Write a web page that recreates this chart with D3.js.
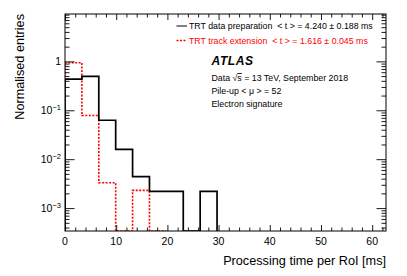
<!DOCTYPE html>
<html>
<head>
<meta charset="utf-8">
<script src="https://cdn.jsdelivr.net/npm/d3@7"></script>
<style>
  body { margin: 0; background: #fff; }
  text { font-family: "Liberation Sans", Arial, sans-serif; }
</style>
</head>
<body>
<div class="chart"></div>
<script>
// bin edges [ms] and normalised contents
var bin_edges = [0, 3.3, 6.6, 9.9, 13.2, 16.5, 19.8, 23.1, 26.4, 29.7];
var data_prep = [0.435, 0.494, 0.0625, 0.0158, 0.0044, 0.0022, 0.0022, 0, 0.0022];
var track_ext = [0.94, 0.078, 0.0033, 0, 0.0023, 0];
var x_ticks = [0, 10, 20, 30, 40, 50, 60];
var y_ticks = [1, 0.1, 0.01, 0.001];
var y_tick_exps = ["", "\u22121", "\u22122", "\u22123"];
var legend_labels = [
	"TRT data preparation  < t > = 4.240 \u00b1 0.188 ms",
	"TRT track extension  < t > = 1.616 \u00b1 0.045 ms"
];

var width = 407;
var height = 276;
var frame = {left: 65, top: 14, right: 386, bottom: 231};
var chart_svg, x, y;

function create_svg_placeholder() {
	chart_svg = d3.select(".chart")
		.append("svg")
		.attr("width", width)
		.attr("height", height);

	x = d3.scaleLinear().domain([0, 62.7]).range([frame.left, frame.right]);
	y = d3.scaleLog().domain([3.4e-4, 9.3]).range([frame.bottom, frame.top]);

	chart_svg.append("clipPath").attr("id", "clip")
		.append("rect")
		.attr("x", frame.left).attr("y", frame.top)
		.attr("width", frame.right - frame.left)
		.attr("height", frame.bottom - frame.top);
}

function hist_path(values) {
	// ROOT style step line, empty bins sit on the bottom of the frame
	let yb = y.range()[0];
	let pts = [[x(bin_edges[0]), yb]];
	values.forEach(function(v, i) {
		let yv = v > 0 ? y(v) : yb;
		pts.push([x(bin_edges[i]), yv]);
		pts.push([x(bin_edges[i + 1]), yv]);
	});
	pts.push([x(bin_edges[values.length]), yb]);
	return d3.line()(pts);
}

function draw_histograms() {
	let g = chart_svg.append("g").attr("clip-path", "url(#clip)");
	g.append("path")
		.attr("d", hist_path(track_ext))
		.attr("fill", "none")
		.attr("stroke", "#ff0000")
		.attr("stroke-width", 1.6)
		.attr("stroke-dasharray", "2,1.5");
	g.append("path")
		.attr("d", hist_path(data_prep))
		.attr("fill", "none")
		.attr("stroke", "#000")
		.attr("stroke-width", 1.7);
}

function draw_axes() {
	let xMinor = d3.range(0, 63, 2).filter(function(d) { return d % 10 !== 0; });

	// bottom (ticks pointing up into the frame)
	chart_svg.append("g").attr("transform", "translate(0," + frame.bottom + ")")
		.call(d3.axisBottom(x).tickValues(x_ticks).tickSizeInner(-6).tickFormat("")).call(clean);
	chart_svg.append("g").attr("transform", "translate(0," + frame.bottom + ")")
		.call(d3.axisBottom(x).tickValues(xMinor).tickSizeInner(-3.5).tickFormat("")).call(clean);
	// top
	chart_svg.append("g").attr("transform", "translate(0," + frame.top + ")")
		.call(d3.axisTop(x).tickValues(x_ticks).tickSizeInner(-6).tickFormat("")).call(clean);
	chart_svg.append("g").attr("transform", "translate(0," + frame.top + ")")
		.call(d3.axisTop(x).tickValues(xMinor).tickSizeInner(-3.5).tickFormat("")).call(clean);

	chart_svg.selectAll(".xlab").data(x_ticks).enter().append("text")
		.attr("x", function(d) { return x(d); })
		.attr("y", 245)
		.attr("text-anchor", "middle")
		.attr("font-size", "10.5px")
		.text(function(d) { return d; });

	// log y minor ticks
	let yMinor = [];
	for (let e = -4; e <= 0; e++) {
		for (let k = 2; k <= 9; k++) {
			let v = k * Math.pow(10, e);
			if (v > y.domain()[0] && v < y.domain()[1]) yMinor.push(v);
		}
	}
	chart_svg.append("g").attr("transform", "translate(" + frame.left + ",0)")
		.call(d3.axisLeft(y).tickValues(y_ticks).tickSizeInner(-9.5).tickFormat("")).call(clean);
	chart_svg.append("g").attr("transform", "translate(" + frame.left + ",0)")
		.call(d3.axisLeft(y).tickValues(yMinor).tickSizeInner(-4.5).tickFormat("")).call(clean);
	chart_svg.append("g").attr("transform", "translate(" + frame.right + ",0)")
		.call(d3.axisRight(y).tickValues(y_ticks).tickSizeInner(-9.5).tickFormat("")).call(clean);
	chart_svg.append("g").attr("transform", "translate(" + frame.right + ",0)")
		.call(d3.axisRight(y).tickValues(yMinor).tickSizeInner(-4.5).tickFormat("")).call(clean);

	let ylab = chart_svg.selectAll(".ylab").data(y_ticks).enter().append("text")
		.attr("x", 61)
		.attr("y", function(d) { return y(d) + 4; })
		.attr("text-anchor", "end")
		.attr("font-size", "10.5px");
	ylab.append("tspan").text(function(d, i) { return i === 0 ? "1" : "10"; });
	ylab.append("tspan")
		.attr("dy", -4.5)
		.attr("font-size", "7.5px")
		.text(function(d, i) { return y_tick_exps[i]; });

	// frame
	chart_svg.append("rect")
		.attr("x", frame.left).attr("y", frame.top)
		.attr("width", frame.right - frame.left)
		.attr("height", frame.bottom - frame.top)
		.attr("fill", "none")
		.attr("stroke", "#000")
		.attr("stroke-width", 1);
}

function clean(g) {
	g.select(".domain").remove();
	g.selectAll(".tick line").attr("stroke", "#000").attr("stroke-width", 0.9);
}

function draw_titles() {
	chart_svg.append("text")
		.attr("x", frame.right)
		.attr("y", 265)
		.attr("text-anchor", "end")
		.attr("font-size", "12.7px")
		.text("Processing time per RoI [ms]");

	chart_svg.append("text")
		.attr("transform", "translate(24," + frame.top + ") rotate(-90)")
		.attr("text-anchor", "end")
		.attr("font-size", "12.7px")
		.text("Normalised entries");
}

function draw_legend() {
	let colors = ["#000", "#ff0000"];
	let ys = [26, 40.5];
	legend_labels.forEach(function(s, i) {
		chart_svg.append("line")
			.attr("x1", 176.5).attr("x2", 187)
			.attr("y1", ys[i]).attr("y2", ys[i])
			.attr("stroke", colors[i])
			.attr("stroke-width", i === 0 ? 1 : 1.6)
			.attr("stroke-dasharray", i === 0 ? null : "2,1.5");
		chart_svg.append("text")
			.attr("x", 189)
			.attr("y", ys[i] + 3.2)
			.attr("font-size", "8.8px")
			.attr("fill", colors[i])
			.style("white-space", "pre")
			.text(s);
	});
}

function draw_atlas_label() {
	chart_svg.append("text")
		.attr("x", 211.5)
		.attr("y", 65)
		.attr("font-size", "12px")
		.attr("font-weight", "bold")
		.attr("font-style", "italic")
		.attr("letter-spacing", "0.6px")
		.text("ATLAS");

	let t = chart_svg.append("text")
		.attr("x", 211.5)
		.attr("y", 81)
		.attr("font-size", "8.8px");
	t.append("tspan").text("Data ");
	t.append("tspan").text("\u221a");
	t.append("tspan").attr("text-decoration", "overline").text("s");
	t.append("tspan").text(" = 13 TeV, September 2018");

	chart_svg.append("text")
		.attr("x", 211.5)
		.attr("y", 94)
		.attr("font-size", "8.8px")
		.style("white-space", "pre")
		.text("Pile-up < \u03bc > = 52");

	chart_svg.append("text")
		.attr("x", 211.5)
		.attr("y", 107)
		.attr("font-size", "8.8px")
		.text("Electron signature");
}

function draw() {
	create_svg_placeholder();
	draw_histograms();
	draw_axes();
	draw_titles();
	draw_legend();
	draw_atlas_label();
}

draw();
</script>
</body>
</html>
